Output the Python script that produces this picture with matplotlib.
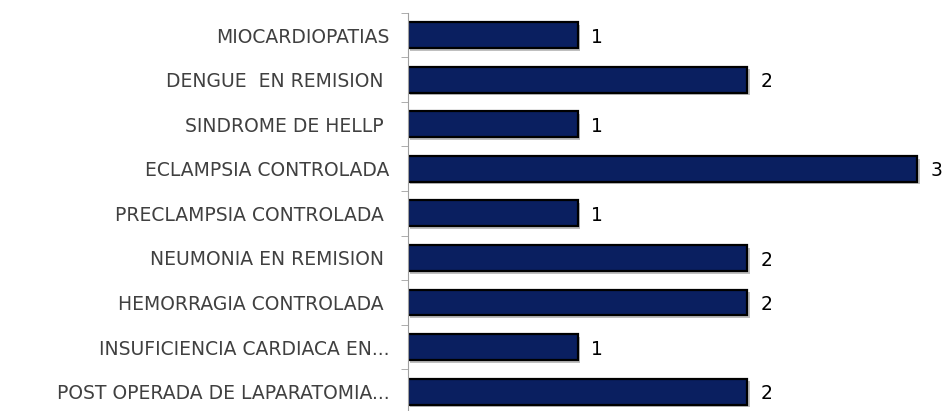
import numpy as np
import matplotlib.pyplot as plt
import matplotlib.patheffects as pe

categorias = [
    "MIOCARDIOPATIAS",
    "DENGUE  EN REMISION ",
    "SINDROME DE HELLP ",
    "ECLAMPSIA CONTROLADA",
    "PRECLAMPSIA CONTROLADA ",
    "NEUMONIA EN REMISION ",
    "HEMORRAGIA CONTROLADA ",
    "INSUFICIENCIA CARDIACA EN...",
    "POST OPERADA DE LAPARATOMIA...",
]
valores = [1, 2, 1, 3, 1, 2, 2, 1, 2]

plt.rcParams['font.family'] = ['DejaVu Sans']

fig = plt.figure(figsize=(9.48, 4.11), dpi=100)
ax = fig.add_axes([0.430, -0.007, 0.57, 0.976])

y = np.arange(len(categorias))
bars = ax.barh(y, valores, height=0.58, color='#0a1f60', edgecolor='#000000', linewidth=1.6)
for b in bars:
    b.set_path_effects([pe.SimplePatchShadow(offset=(2, -2), shadow_rgbFace='#b0b0b0', alpha=0.8), pe.Normal()])

for yi, v in zip(y, valores):
    ax.text(v + 0.08, yi + 0.05, str(v), va='center', ha='left', fontsize=13.5, color='#000000')

ax.set_xlim(0, 3.18)
ax.set_ylim(len(categorias) - 0.5, -0.5)
ax.set_yticks(y)
ax.set_yticklabels(categorias, fontsize=13.5, color='#404040')
ax.set_yticks(np.arange(-0.5, len(categorias), 1), minor=True)
ax.tick_params(axis='y', which='major', length=0, pad=13)
ax.tick_params(axis='y', which='minor', length=5, color='#a0a0a0')
ax.set_xticks([])
for s in ['top', 'right', 'bottom']:
    ax.spines[s].set_visible(False)
ax.spines['left'].set_color('#a0a0a0')

fig.savefig('out.png', dpi=100)
